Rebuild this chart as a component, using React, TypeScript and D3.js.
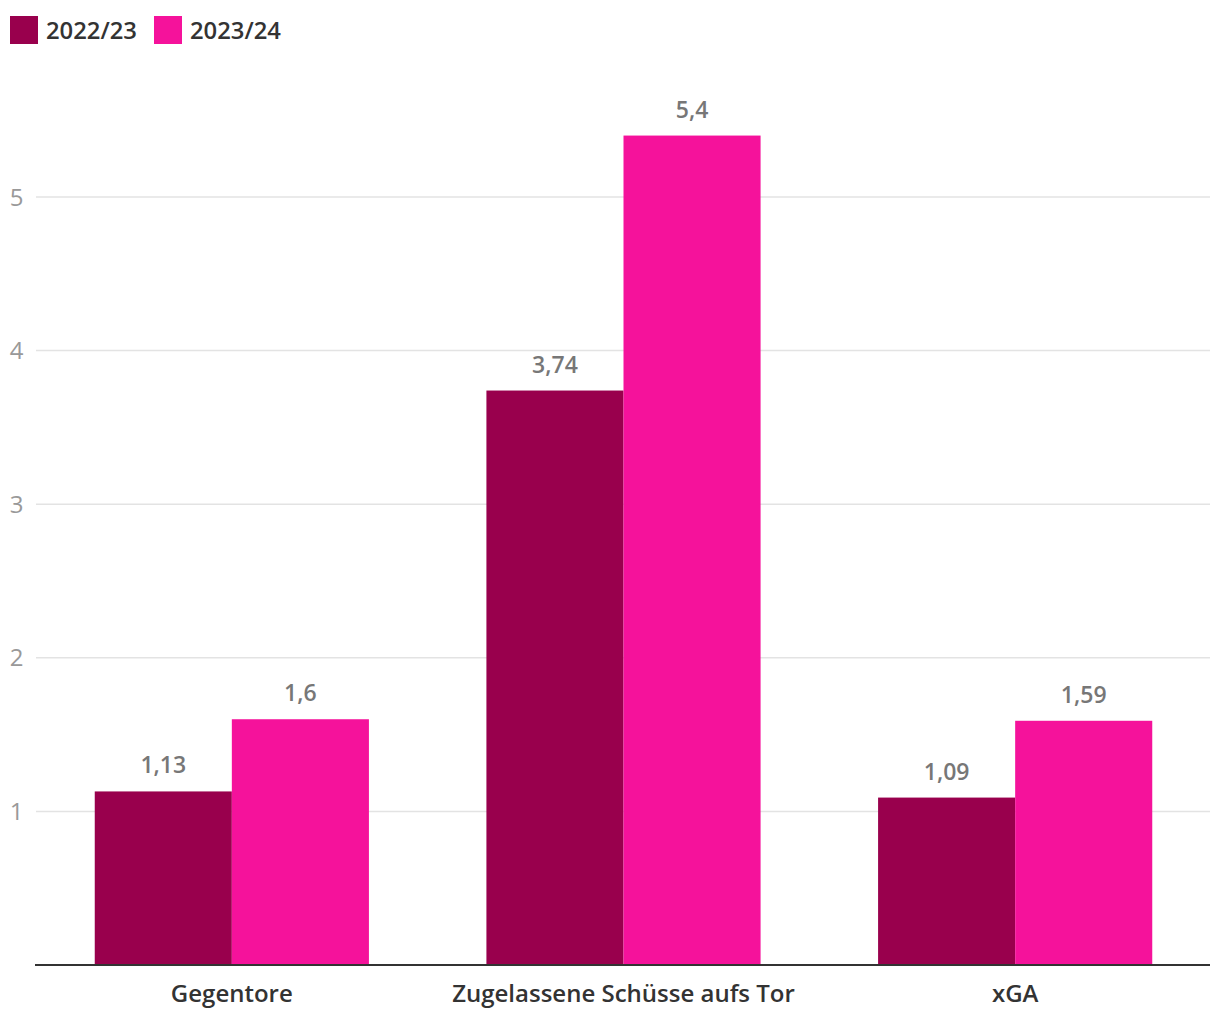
import React from "react";
import * as d3 from "d3";

const categories = ["Gegentore", "Zugelassene Schüsse aufs Tor", "xGA"];
const seriesNames = ["2022/23", "2023/24"];
const values2022 = [1.13, 3.74, 1.09];
const values2023 = [1.6, 5.4, 1.59];
const valueLabels2022 = ["1,13", "3,74", "1,09"];
const valueLabels2023 = ["1,6", "5,4", "1,59"];
const yTicks = [1, 2, 3, 4, 5];
const colors = ["#99004d", "#f5129b"];

const W = 1220;
const H = 1020;
const left = 36;
const right = 1211;
const baseY = 965;
const unit = 153.6;

export default function App() {
  const x = d3.scaleBand<string>().domain(categories).range([left, right]).paddingInner(0.3).paddingOuter(0.15);
  const x1 = d3.scaleBand<string>().domain(seriesNames).range([0, x.bandwidth()]).padding(0);
  const y = d3.scaleLinear().domain([0, 5]).range([baseY, baseY - 5 * unit]);
  const series = [
    { name: seriesNames[0], values: values2022, labels: valueLabels2022, color: colors[0] },
    { name: seriesNames[1], values: values2023, labels: valueLabels2023, color: colors[1] },
  ];
  const font = "'Open Sans', sans-serif";
  return (
    <svg width={W} height={H} style={{ position: "absolute", left: 0, top: 0, fontFamily: font }}>
      <rect width={W} height={H} fill="#fff" />
      {/* legend */}
      <g>
        <rect x={10} y={16} width={28} height={28} fill={colors[0]} />
        <text x={46} y={38.5} fontSize={23.8} fontWeight={600} fill="#333">{seriesNames[0]}</text>
        <rect x={154} y={16} width={28} height={28} fill={colors[1]} />
        <text x={190} y={38.5} fontSize={23.8} fontWeight={600} fill="#333">{seriesNames[1]}</text>
      </g>
      {/* grid */}
      {yTicks.map((t) => (
        <g key={t}>
          <line x1={36} x2={right - 1} y1={y(t)} y2={y(t)} stroke="#e3e3e3" strokeWidth={1.5} />
          <text x={16.5} y={y(t) + 8.5} textAnchor="middle" fontSize={24} fill="#999">{t}</text>
        </g>
      ))}
      {/* bars */}
      {series.map((s) => (
        <g key={s.name}>
          {categories.map((c, i) => {
            const bx = (x(c) ?? 0) + (x1(s.name) ?? 0);
            const by = y(s.values[i]);
            return (
              <g key={c}>
                <rect x={bx} y={by} width={x1.bandwidth()} height={baseY - by} fill={s.color} />
                <text x={bx + x1.bandwidth() / 2} y={by - 18} textAnchor="middle" fontSize={23} fontWeight={600} fill="#777">{s.labels[i]}</text>
              </g>
            );
          })}
        </g>
      ))}
      {/* baseline */}
      <line x1={left - 1} x2={right - 1} y1={baseY} y2={baseY} stroke="#333" strokeWidth={2} />
      {categories.map((c) => (
        <text key={c} x={(x(c) ?? 0) + x.bandwidth() / 2} y={1002} textAnchor="middle" fontSize={24} fontWeight={600} fill="#333">{c}</text>
      ))}
    </svg>
  );
}
